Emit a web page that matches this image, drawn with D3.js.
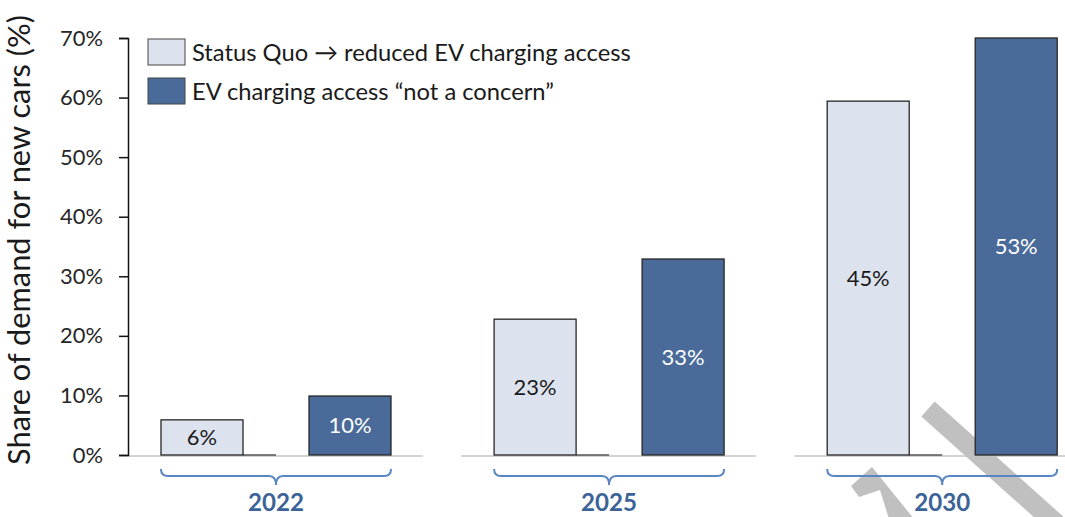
<!DOCTYPE html>
<html>
<head>
<meta charset="utf-8">
<script src="https://cdn.jsdelivr.net/npm/d3@7"></script>
<style>
  body { margin: 0; background: #fff; }
  svg { display: block; }
  text { font-family: Lato, "Open Sans", sans-serif; }
</style>
</head>
<body>
<svg id="chart" width="1065" height="517"></svg>
<script>
// chart data
var years = ['2022', '2025', '2030'];
var seriesNames = ['Status Quo \u2192 reduced EV charging access', 'EV charging access \u201cnot a concern\u201d'];
var statusQuo = [5.9, 22.8, 59.4];
var notConcern = [9.9, 32.9, 70];
var statusQuoLabels = ['6%', '23%', '45%'];
var notConcernLabels = ['10%', '33%', '53%'];
var yTicks = [0, 10, 20, 30, 40, 50, 60, 70];
var yTitle = 'Share of demand for new cars (%)';

var lightFill = '#dde3ee',
    darkFill = '#4a6b9a',
    braceColor = '#5886c2',
    yearColor = '#3c6397';

var svg = d3.select('#chart');

// size a font so a string comes out at a given width
function fitFont(txt, weight, target) {
    var t = svg.append('text').attr('font-size', 100).attr('font-weight', weight).text(txt);
    var w = t.node().getComputedTextLength();
    t.remove();
    return 100 * target / w;
}

var tickSize = fitFont('70%', 'normal', 43);
var yearSize = fitFont('2022', 'bold', 56);
var legendSize = fitFont(seriesNames[0], 'normal', 439);
var titleSize = fitFont(yTitle, 'normal', 450);

// watermark fragments, drawn first so everything else sits on top
svg.append('line')
    .attr('x1', 928).attr('y1', 409).attr('x2', 1070).attr('y2', 536)
    .attr('stroke', '#c0c0c0').attr('stroke-width', 20);
svg.append('path')
    .attr('d', 'M872,467L914,519L889,519L880,490L859,497L851,486Z')
    .attr('fill', '#c0c0c0');

var x = d3.scaleBand().domain(years).range([128, 1089]).paddingInner(0.115).paddingOuter(0);
var xs = d3.scaleBand().domain([0, 1]).range([33, 263]).paddingInner(0.446).paddingOuter(0);
var y = d3.scaleLinear().domain([0, 70]).range([455, 38]);

var groups = years.map(function(yr, i) {
    return {year: yr, values: [statusQuo[i], notConcern[i]], labels: [statusQuoLabels[i], notConcernLabels[i]]};
});

// broken baseline per group
svg.selectAll('.base')
    .data(groups)
  .enter().append('line')
    .attr('class', 'base')
    .attr('x1', function(d) { return x(d.year); })
    .attr('x2', function(d) { return x(d.year) + x.bandwidth(); })
    .attr('y1', y(0) + 1)
    .attr('y2', y(0) + 1)
    .attr('stroke', '#c4c4c4')
    .attr('stroke-width', 1.5);

// short dark segment between the bars
svg.selectAll('.gapline')
    .data(groups)
  .enter().append('line')
    .attr('class', 'gapline')
    .attr('x1', function(d) { return x(d.year) + xs(0) + xs.bandwidth(); })
    .attr('x2', function(d) { return x(d.year) + (xs(0) + xs(1) + xs.bandwidth()) / 2; })
    .attr('y1', y(0))
    .attr('y2', y(0))
    .attr('stroke', '#555')
    .attr('stroke-width', 1.5);

var g = svg.selectAll('.group')
    .data(groups)
  .enter().append('g')
    .attr('class', 'group')
    .attr('transform', function(d) { return 'translate(' + x(d.year) + ',0)'; });

g.selectAll('rect')
    .data(function(d) { return d.values.map(function(v, i) { return {i: i, v: v, label: d.labels[i]}; }); })
  .enter().append('rect')
    .attr('x', function(d) { return xs(d.i); })
    .attr('y', function(d) { return y(d.v); })
    .attr('width', xs.bandwidth())
    .attr('height', function(d) { return y(0) - y(d.v); })
    .attr('fill', function(d) { return d.i === 0 ? lightFill : darkFill; })
    .attr('stroke', '#262626')
    .attr('stroke-width', 1.3);

g.selectAll('.vlabel')
    .data(function(d) { return d.values.map(function(v, i) { return {i: i, v: v, label: d.labels[i]}; }); })
  .enter().append('text')
    .attr('class', 'vlabel')
    .attr('x', function(d) { return xs(d.i) + xs.bandwidth() / 2; })
    .attr('y', function(d) { return (y(d.v) + y(0)) / 2; })
    .attr('dy', '0.36em')
    .attr('text-anchor', 'middle')
    .attr('font-size', tickSize)
    .attr('fill', function(d) { return d.i === 0 ? '#1a1a1a' : '#fff'; })
    .text(function(d) { return d.label; });

// braces under each group
function bracePath(d) {
    var x0 = xs(0), x1 = xs(1) + xs.bandwidth(), m = (x0 + x1) / 2;
    var top = 469, mid = 476, tip = 485, r = 7;
    return 'M' + x0 + ',' + top +
        'Q' + x0 + ',' + mid + ' ' + (x0 + r) + ',' + mid +
        'L' + (m - r) + ',' + mid +
        'Q' + m + ',' + mid + ' ' + m + ',' + tip +
        'Q' + m + ',' + mid + ' ' + (m + r) + ',' + mid +
        'L' + (x1 - r) + ',' + mid +
        'Q' + x1 + ',' + mid + ' ' + x1 + ',' + top;
}

g.append('path')
    .attr('d', bracePath)
    .attr('fill', 'none')
    .attr('stroke', braceColor)
    .attr('stroke-width', 2);

g.append('text')
    .attr('x', (xs(0) + xs(1) + xs.bandwidth()) / 2)
    .attr('y', 511)
    .attr('text-anchor', 'middle')
    .attr('font-weight', 'bold')
    .attr('font-size', yearSize)
    .attr('fill', yearColor)
    .text(function(d) { return d.year; });

// y axis
var axis = svg.append('g')
    .attr('transform', 'translate(128,0)')
    .call(d3.axisLeft(y).tickValues(yTicks).tickSize(9).tickPadding(16)
        .tickFormat(function(d) { return d + '%'; }));
axis.select('.domain').attr('stroke', '#111').attr('stroke-width', 1.5);
axis.selectAll('.tick line').attr('stroke', '#111').attr('stroke-width', 1.5);
axis.selectAll('.tick text')
    .attr('font-size', tickSize)
    .attr('font-family', 'Lato, "Open Sans", sans-serif')
    .attr('fill', '#262626');

svg.append('text')
    .attr('transform', 'translate(30,240) rotate(-90)')
    .attr('text-anchor', 'middle')
    .attr('font-size', titleSize)
    .attr('fill', '#1a1a1a')
    .text(yTitle);

// legend
var legend = svg.selectAll('.legend')
    .data(seriesNames)
  .enter().append('g')
    .attr('class', 'legend')
    .attr('transform', function(d, i) { return 'translate(148,' + (39 + i * 39) + ')'; });

legend.append('rect')
    .attr('width', 37)
    .attr('height', 26)
    .attr('fill', function(d, i) { return i === 0 ? lightFill : darkFill; })
    .attr('stroke', '#444')
    .attr('stroke-width', 1);

legend.append('text')
    .attr('x', 44)
    .attr('y', 13)
    .attr('dy', '0.36em')
    .attr('font-size', legendSize)
    .attr('fill', '#1a1a1a')
    .text(function(d) { return d; });
</script>
</body>
</html>
